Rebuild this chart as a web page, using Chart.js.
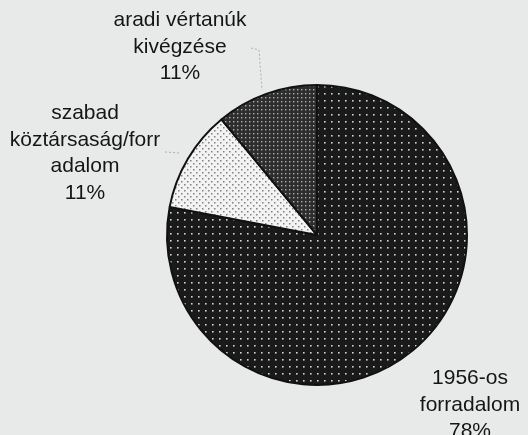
<!DOCTYPE html>
<html lang="hu">
<head>
  <meta charset="UTF-8">
  <title>Pie chart</title>
  <style>
    body {
      margin: 0;
      background: #e8eaea;
    }
    #wrap {
      width: 528px;
      height: 435px;
    }
  </style>
  <script src="https://cdn.jsdelivr.net/npm/chart.js"></script>
</head>
<body>
  <div id="wrap"><canvas id="myChart" width="528" height="435"></canvas></div>

  <script>
    // data
    const labels = ['1956-os forradalom', 'szabad köztársaság/forradalom', 'aradi vértanúk kivégzése'];
    const values = [78, 11, 11];
    const labelLines = [
      ['1956-os', 'forradalom', '78%'],
      ['szabad', 'köztársaság/forr', 'adalom', '11%'],
      ['aradi vértanúk', 'kivégzése', '11%']
    ];

    // dotted fills like the scanned print
    function dots(size, bg, fg, pts, d) {
      const c = document.createElement('canvas');
      c.width = size; c.height = size;
      const g = c.getContext('2d');
      g.fillStyle = bg;
      g.fillRect(0, 0, size, size);
      g.fillStyle = fg;
      pts.forEach(p => g.fillRect(p[0], p[1], d, d));
      return g.createPattern(c, 'repeat');
    }

    const fills = [
      dots(7, '#1a1a1a', '#d4d4d4', [[2, 2]], 1.6),
      dots(6, '#f3f3f3', '#808080', [[1, 1], [4, 4]], 1.5),
      dots(4, '#2e2e2e', '#b0b0b0', [[1, 1]], 1.4)
    ];

    // label block centres relative to pie centre
    const labelOffsets = [[153, 170], [-232, -82], [-137, -188]];

    const outsideLabels = {
      id: 'outsideLabels',
      afterDraw(chart) {
        const c = chart.ctx;
        const arc = chart.getDatasetMeta(0).data[0];
        const cx = arc.x, cy = arc.y;
        const lh = 26.5;

        // faint leader lines
        c.save();
        c.strokeStyle = 'rgba(120,120,120,0.5)';
        c.lineWidth = 1;
        c.setLineDash([2, 2]);
        c.beginPath();
        c.moveTo(cx - 66, cy - 187); c.lineTo(cx - 58, cy - 185); c.lineTo(cx - 55, cy - 145);
        c.moveTo(cx - 152, cy - 83); c.lineTo(cx - 137, cy - 82);
        c.stroke();
        c.restore();

        c.save();
        c.font = '21px "Liberation Sans", Arial, sans-serif';
        c.fillStyle = '#151515';
        c.textAlign = 'center';
        c.textBaseline = 'middle';
        labelLines.forEach((lines, i) => {
          const x = cx + labelOffsets[i][0];
          const y0 = cy + labelOffsets[i][1] - (lines.length - 1) * lh / 2;
          lines.forEach((t, j) => c.fillText(t, x, y0 + j * lh));
        });
        c.restore();
      }
    };

    const ctx = document.getElementById('myChart').getContext('2d');
    const myChart = new Chart(ctx, {
      type: 'pie',
      data: {
        labels: labels,
        datasets: [{
          data: values,
          backgroundColor: fills,
          borderColor: '#111',
          borderWidth: 2
        }]
      },
      options: {
        responsive: false,
        animation: false,
        layout: {
          padding: { left: 166, right: 60, top: 84, bottom: 49 }
        },
        plugins: {
          legend: { display: false },
          tooltip: { enabled: false }
        }
      },
      plugins: [outsideLabels]
    });
  </script>
</body>
</html>
